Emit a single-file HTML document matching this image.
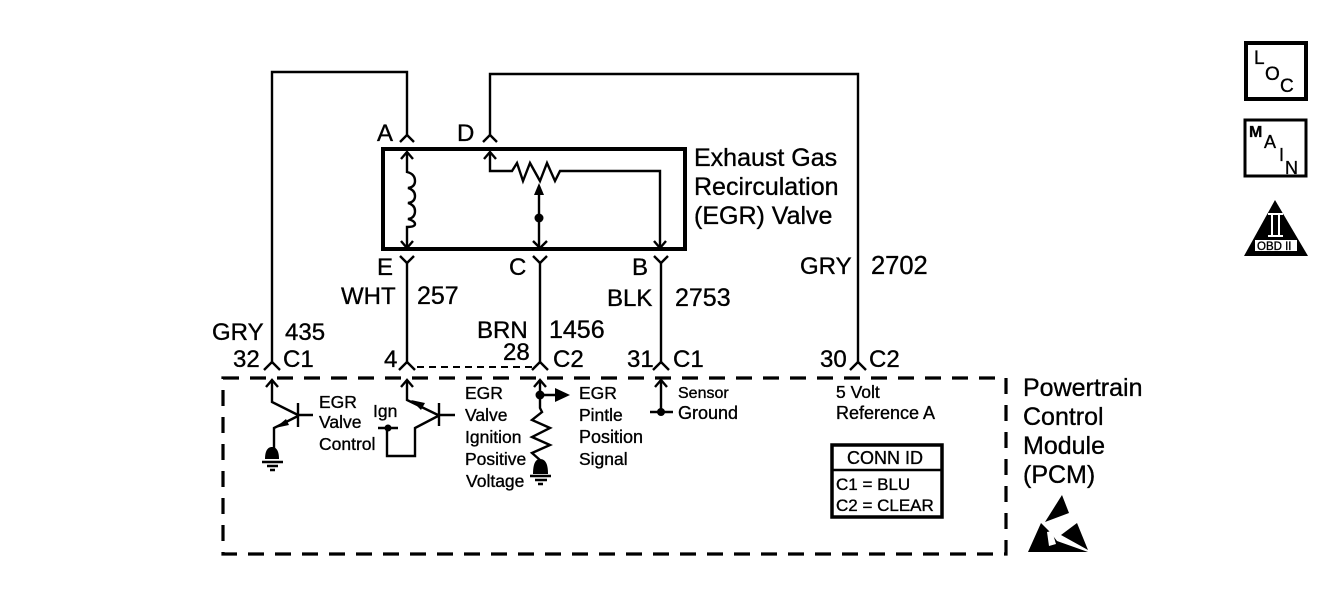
<!DOCTYPE html>
<html><head><meta charset="utf-8"><style>
html,body{margin:0;padding:0;background:#fff}
svg{display:block}
text{font-family:"Liberation Sans",sans-serif;fill:#000;stroke:#000;stroke-width:.35}
.l{font-size:24px}
.v{font-size:25px}
.s{font-size:17.5px}
.w{fill:none;stroke:#000;stroke-width:2.4}
.t{fill:none;stroke:#000;stroke-width:4}
</style></head><body>
<svg width="1328" height="598" viewBox="0 0 1328 598" xmlns="http://www.w3.org/2000/svg">
<path class="w" d="M272 362V72H407V135M490 135V74H858V362"/>
<path class="w" d="M407 263V362M540 263V362M661 263V362"/>
<path class="w" d="M400 142L407 135L414 142M483 142L490 135L497 142"/>
<path class="w" d="M400 256L407 263L414 256M533 256L540 263L547 256M654 256L661 263L668 256"/>
<path class="w" d="M264 370L272 362L280 370M399 370L407 362L415 370M532 370L540 362L548 370M653 370L661 362L669 370M850 370L858 362L866 370"/>
<path fill="none" stroke="#000" stroke-width="2" stroke-dasharray="7 5" d="M417 367H532"/>
<rect x="383" y="149" width="302" height="100" class="t"/>
<path class="w" d="M407 153V172Q415 174 415 181Q415 187 408 188Q415 190 415 196Q415 202 408 203Q415 205 415 211Q415 218 408 219Q415 221 415 224Q415 227 407 227V248"/>
<path class="w" d="M401 159L407 152L413 159M401 241L407 248L413 241"/>
<path class="w" d="M490 153V171H512L517 163L523 181L530 163L540 181L547 163L555 181L560 171H660V248"/>
<path class="w" d="M484 159L490 152L496 159M533 241L540 248L547 241M654 241L660 248L666 241"/>
<path class="w" d="M539 190V248"/>
<path d="M539 183L534 195H544Z"/><circle cx="539" cy="218" r="4.5"/>
<g class="l">
<text x="377" y="141">A</text><text x="457" y="141">D</text>
<text x="377" y="275">E</text><text x="509" y="275">C</text><text x="632" y="275">B</text>
<text x="341" y="304">WHT</text><text x="417" y="304" font-size="25">257</text>
<text x="212" y="340">GRY</text><text x="285" y="340">435</text>
<text x="477" y="338">BRN</text><text x="549" y="338" font-size="25">1456</text>
<text x="607" y="306">BLK</text><text x="675" y="306" font-size="25">2753</text>
<text x="800" y="274">GRY</text><text x="871" y="274" font-size="25.5">2702</text>
<text x="233" y="367">32</text><text x="283" y="367">C1</text>
<text x="384" y="367">4</text>
<text x="503" y="360">28</text><text x="553" y="367">C2</text>
<text x="627" y="367">31</text><text x="673" y="367">C1</text>
<text x="820" y="367">30</text><text x="869" y="367">C2</text>
</g>
<g class="v">
<text x="694" y="166">Exhaust Gas</text>
<text x="694" y="195">Recirculation</text>
<text x="694" y="224">(EGR) Valve</text>
<text x="1023" y="396">Powertrain</text>
<text x="1023" y="425">Control</text>
<text x="1023" y="454">Module</text>
<text x="1023" y="483">(PCM)</text>
</g>
<rect x="223" y="378" width="783" height="176" fill="none" stroke="#000" stroke-width="3.2" stroke-dasharray="16 11"/>
<g class="s">
<text x="319" y="408">EGR</text><text x="319" y="428">Valve</text><text x="319" y="450">Control</text>
<text x="373" y="417">Ign</text>
<text x="465" y="399">EGR</text><text x="465" y="421">Valve</text><text x="465" y="443">Ignition</text><text x="465" y="465">Positive</text><text x="466" y="487">Voltage</text>
<text x="579" y="399">EGR</text><text x="579" y="421">Pintle</text><text x="579" y="443" font-size="18">Position</text><text x="579" y="465">Signal</text>
<text x="678" y="398" font-size="16">Sensor</text><text x="678" y="419" font-size="18">Ground</text>
<text x="836" y="398">5 Volt</text><text x="836" y="419" font-size="18">Reference A</text>
</g>
<!-- left transistor -->
<path class="w" d="M272 382V402L298 415M298 403V427M298 415H313M298 416L274 428V450"/>
<path class="w" d="M266 387L272 380L278 387M401 387L407 380L413 387M534 387L540 380L546 387M655 387L661 380L667 387"/>
<path d="M275 428L286 419L289 425Z"/>
<path d="M272 447C277 447 279 452 279 459H265C265 452 267 447 272 447Z"/><path class="w" d="M262 462H283M267 466H278M270 470H275"/>
<!-- middle transistor -->
<path class="w" d="M407 382V400L438 415M439 403V426M439 415H455M438 416L415 428V456H387V428M378 428H398"/>
<circle cx="388" cy="428" r="3.5"/><path d="M411 400L425 403L421 410Z"/>
<!-- right -->
<path class="w" d="M540 382V408L542 412L532 420L550 428L532 437L550 445L532 453L540 460"/>
<circle cx="540" cy="395" r="4.5"/><path class="w" d="M540 395H558"/><path d="M555 388L570 395L555 402Z"/>
<path d="M540 459C546 459 548 465 548 474H533C533 465 535 459 540 459Z"/><path class="w" d="M530 476H551M535 480H547M538 484H543"/>
<path class="w" d="M661 382V412M650 412H673"/><circle cx="661" cy="412" r="4"/>
<!-- conn id -->
<rect x="832" y="445" width="110" height="72" fill="none" stroke="#000" stroke-width="3.5"/>
<path class="w" d="M832 470H942"/>
<text x="847" y="464" font-size="18">CONN ID</text>
<text x="836" y="490" font-size="17">C1 = BLU</text>
<text x="836" y="511" font-size="17">C2 = CLEAR</text>
<!-- ESD -->
<path d="M1062 495L1069 513L1045 522Z"/>
<path d="M1028 552L1041 523L1050 532L1057 541L1088 552Z"/>
<path d="M1061 535L1077 523L1088 550Z"/>
<path d="M1047 532L1052 531L1056 544L1049 546Z" fill="#fff"/>
<!-- icons -->
<rect x="1246" y="43" width="60" height="56" fill="none" stroke="#000" stroke-width="4"/>
<text x="1254" y="64" font-size="19">L</text><text x="1265" y="80" font-size="19">O</text><text x="1280" y="92" font-size="19">C</text>
<rect x="1245" y="120" width="61" height="56" fill="none" stroke="#000" stroke-width="3"/>
<text x="1249" y="137" font-size="16" font-weight="bold">M</text><text x="1264" y="148" font-size="18">A</text><text x="1279" y="161" font-size="18">I</text><text x="1285" y="174" font-size="18">N</text>
<path d="M1275 200L1308 256H1244Z"/>
<rect x="1255" y="240" width="42" height="11" fill="#fff"/>
<text x="1257" y="250" font-size="11.5">OBD II</text>
<path d="M1268 214H1283M1268 236H1283M1272 214V236M1279 214V236" stroke="#fff" stroke-width="2" fill="none"/>
</svg>
</body></html>
